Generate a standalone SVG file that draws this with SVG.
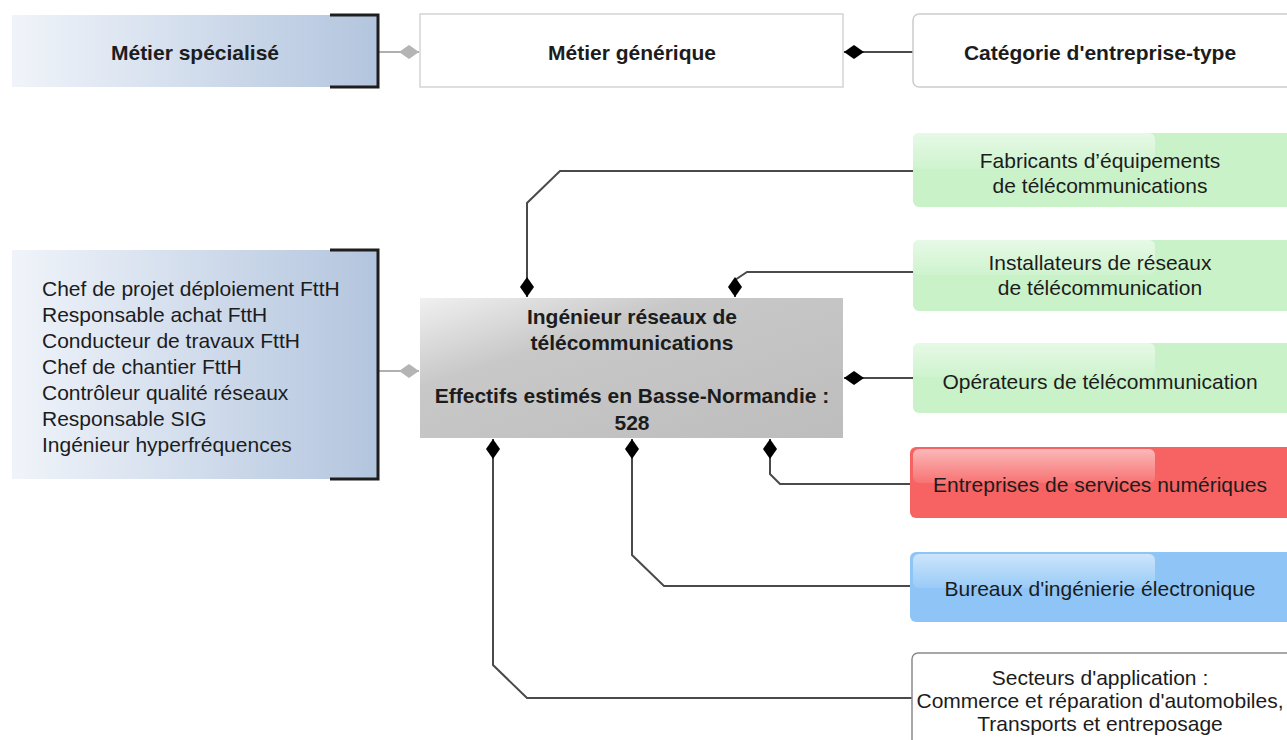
<svg xmlns="http://www.w3.org/2000/svg" width="1287" height="740" viewBox="0 0 1287 740">
<style>
text{font-family:"Liberation Sans",Arial,sans-serif;font-size:21px;fill:#1c1c1c}
.b{font-weight:bold}
.c{text-anchor:middle}
.bracket{fill:none;stroke:#1e1e1e;stroke-width:3}
.conn{fill:none;stroke:#4a4a4a;stroke-width:2}
.gconn{fill:none;stroke:#b0b0b0;stroke-width:2}
</style>
<defs>
<linearGradient id="blue" x1="0" y1="0" x2="1" y2="0">
<stop offset="0" stop-color="#f0f4fa"/><stop offset="1" stop-color="#b3c5de"/>
</linearGradient>
<linearGradient id="grey" x1="0" y1="0" x2="1" y2="1">
<stop offset="0" stop-color="#f0f0f0"/><stop offset="0.32" stop-color="#c8c8c8"/><stop offset="1" stop-color="#bdbdbd"/>
</linearGradient>
<linearGradient id="gloss" x1="0" y1="0" x2="0" y2="1">
<stop offset="0" stop-color="#ffffff" stop-opacity="0.55"/><stop offset="1" stop-color="#ffffff" stop-opacity="0.1"/>
</linearGradient>
<marker id="dia" viewBox="0 0 20 14" refX="20" refY="7" markerWidth="20" markerHeight="14" markerUnits="userSpaceOnUse" orient="auto">
<path d="M0,7 L10,0 L20,7 L10,14 Z" fill="#000"/>
</marker>
<marker id="gdia" viewBox="0 0 20 14" refX="20" refY="7" markerWidth="20" markerHeight="14" markerUnits="userSpaceOnUse" orient="auto">
<path d="M0,7 L10,0 L20,7 L10,14 Z" fill="#b4b4b4"/>
</marker>
</defs>
<rect width="1287" height="740" fill="#ffffff"/>

<g id="connectors">
<path class="gconn" d="M378 52 L419 52" marker-end="url(#gdia)"/>
<path class="gconn" d="M378 371 L419 371" marker-end="url(#gdia)"/>
<path class="conn" d="M913 52 L844 52" marker-end="url(#dia)"/>
<path class="conn" d="M913 171 L560 171 L527 203 L527 297" marker-end="url(#dia)"/>
<path class="conn" d="M913 272 L747 272 L735 280 L735 297" marker-end="url(#dia)"/>
<path class="conn" d="M913 378 L844 378" marker-end="url(#dia)"/>
<path class="conn" d="M913 484 L780 484 L770 474 L770 439" marker-end="url(#dia)"/>
<path class="conn" d="M913 586 L664 586 L632 555 L632 439" marker-end="url(#dia)"/>
<path class="conn" d="M913 698 L527 698 L493 665 L493 439" marker-end="url(#dia)"/>
</g>

<g id="metier-specialise">
<rect x="12" y="15" width="366" height="72" fill="url(#blue)"/>
<path class="bracket" d="M330 15 L378 15 L378 87 L330 87"/>
<text class="b c" x="195" y="60">Métier spécialisé</text>
</g>

<g id="metier-generique">
<rect x="420" y="14" width="423" height="73" fill="#ffffff" stroke="#d4d4d4" stroke-width="1.5"/>
<text class="b c" x="632" y="60">Métier générique</text>
</g>

<g id="categorie">
<rect x="913" y="14" width="390" height="73" rx="6" fill="#ffffff" stroke="#cccccc" stroke-width="1.5"/>
<text class="b c" x="1100" y="60">Catégorie d'entreprise-type</text>
</g>

<g id="metiers-specialises">
<rect x="12" y="250" width="366" height="229" fill="url(#blue)"/>
<path class="bracket" d="M330 250 L378 250 L378 479 L330 479"/>
<text x="42" y="296">Chef de projet déploiement FttH</text>
<text x="42" y="322">Responsable achat FttH</text>
<text x="42" y="348">Conducteur de travaux FttH</text>
<text x="42" y="374">Chef de chantier FttH</text>
<text x="42" y="400">Contrôleur qualité réseaux</text>
<text x="42" y="426">Responsable SIG</text>
<text x="42" y="452">Ingénieur hyperfréquences</text>
</g>

<g id="ingenieur">
<rect x="420" y="298" width="423" height="140" fill="url(#grey)"/>
<text class="b c" x="632" y="324">Ingénieur réseaux de</text>
<text class="b c" x="632" y="350">télécommunications</text>
<text class="b c" x="632" y="403">Effectifs estimés en Basse-Normandie :</text>
<text class="b c" x="632" y="430">528</text>
</g>

<g id="fabricants">
<rect x="913" y="133" width="390" height="74" rx="6" fill="#c9f2c9"/>
<rect x="913" y="133" width="242" height="36" rx="6" fill="url(#gloss)"/>
<text class="c" x="1100" y="168">Fabricants d’équipements</text>
<text class="c" x="1100" y="193">de télécommunications</text>
</g>

<g id="installateurs">
<rect x="913" y="240" width="390" height="71" rx="6" fill="#c9f2c9"/>
<rect x="913" y="240" width="242" height="35" rx="6" fill="url(#gloss)"/>
<text class="c" x="1100" y="270">Installateurs de réseaux</text>
<text class="c" x="1100" y="295">de télécommunication</text>
</g>

<g id="operateurs">
<rect x="913" y="343" width="390" height="70" rx="6" fill="#c9f2c9"/>
<rect x="913" y="343" width="242" height="34" rx="6" fill="url(#gloss)"/>
<text class="c" x="1100" y="389">Opérateurs de télécommunication</text>
</g>

<g id="esn">
<rect x="910" y="447" width="393" height="71" rx="6" fill="#f76363"/>
<rect x="913" y="449" width="242" height="34" rx="6" fill="url(#gloss)"/>
<text class="c" x="1100" y="492">Entreprises de services numériques</text>
</g>

<g id="bureaux">
<rect x="910" y="552" width="393" height="70" rx="6" fill="#8ec5f6"/>
<rect x="913" y="554" width="242" height="34" rx="6" fill="url(#gloss)"/>
<text class="c" x="1100" y="596">Bureaux d'ingénierie électronique</text>
</g>

<g id="secteurs">
<rect x="912" y="653" width="391" height="100" rx="6" fill="#ffffff" stroke="#8a8a8a" stroke-width="1.5"/>
<text class="c" x="1100" y="685">Secteurs d'application :</text>
<text class="c" x="1100" y="708">Commerce et réparation d'automobiles,</text>
<text class="c" x="1100" y="731">Transports et entreposage</text>
</g>
</svg>
